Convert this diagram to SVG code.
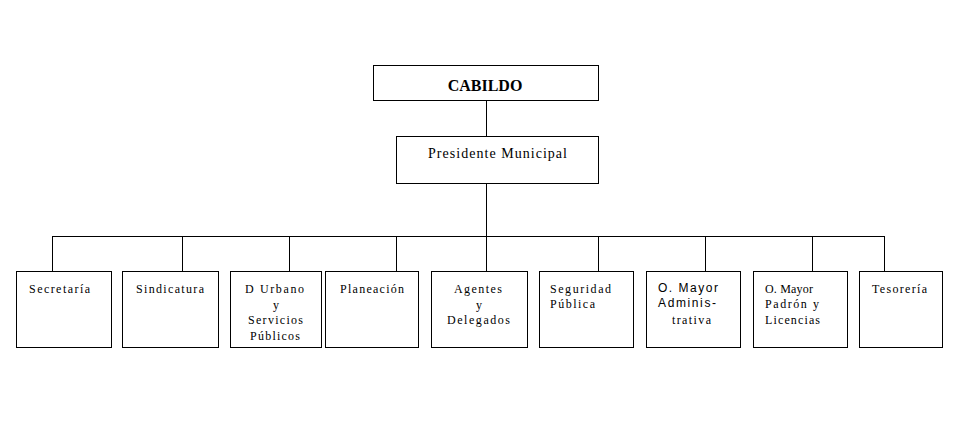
<svg xmlns="http://www.w3.org/2000/svg" width="959" height="439" viewBox="0 0 959 439">
<style>
rect{fill:#fff;stroke:#000;stroke-width:1}
.c line{stroke:#000;stroke-width:1}
text{font-family:"Liberation Serif","Times New Roman",serif;font-size:12px;fill:#000}
.s{font-family:"Liberation Sans",Arial,sans-serif}
.m{text-anchor:middle}
</style>
<rect x="0" y="0" width="959" height="439" style="stroke:none"/>
<g class="c" id="connectors">
<line x1="486.5" y1="100" x2="486.5" y2="136"/>
<line x1="486.5" y1="183" x2="486.5" y2="271"/>
<line x1="52" y1="236.5" x2="885" y2="236.5"/>
<line x1="52.5" y1="236.5" x2="52.5" y2="271"/>
<line x1="182.5" y1="236.5" x2="182.5" y2="271"/>
<line x1="289.5" y1="236.5" x2="289.5" y2="271"/>
<line x1="396.5" y1="236.5" x2="396.5" y2="271"/>
<line x1="598.5" y1="236.5" x2="598.5" y2="271"/>
<line x1="705.5" y1="236.5" x2="705.5" y2="271"/>
<line x1="812.5" y1="236.5" x2="812.5" y2="271"/>
<line x1="884.5" y1="236.5" x2="884.5" y2="271"/>
</g>
<g id="cabildo">
<rect x="373.5" y="65.5" width="225" height="35"/>
<text x="485" y="91" class="m" style="font-size:16px;font-weight:bold">CABILDO</text>
</g>
<g id="presidente">
<rect x="396.5" y="136.5" width="202" height="47"/>
<text x="428" y="158" style="font-size:14px" textLength="139" lengthAdjust="spacing">Presidente Municipal</text>
</g>
<g id="secretaria">
<rect x="16.5" y="271.5" width="95" height="76"/>
<text x="29" y="293" textLength="61" lengthAdjust="spacing">Secretaría</text>
</g>
<g id="sindicatura">
<rect x="122.5" y="271.5" width="96" height="76"/>
<text x="136" y="293" textLength="68" lengthAdjust="spacing">Sindicatura</text>
</g>
<g id="durbano">
<rect x="230.5" y="271.5" width="91" height="76"/>
<text x="245" y="293" textLength="59" lengthAdjust="spacing">D Urbano</text>
<text x="276" y="309" class="m">y</text>
<text x="248" y="324" textLength="55" lengthAdjust="spacing">Servicios</text>
<text x="250" y="340" textLength="50" lengthAdjust="spacing">Públicos</text>
</g>
<g id="planeacion">
<rect x="325.5" y="271.5" width="93" height="76"/>
<text x="340" y="293" textLength="64" lengthAdjust="spacing">Planeación</text>
</g>
<g id="agentes">
<rect x="431.5" y="271.5" width="96" height="76"/>
<text x="454" y="293" textLength="48" lengthAdjust="spacing">Agentes</text>
<text x="479" y="309" class="m">y</text>
<text x="447" y="324" textLength="63" lengthAdjust="spacing">Delegados</text>
</g>
<g id="seguridad">
<rect x="539.5" y="271.5" width="94" height="76"/>
<text x="550" y="293" textLength="61" lengthAdjust="spacing">Seguridad</text>
<text x="550" y="308" textLength="45" lengthAdjust="spacing">Pública</text>
</g>
<g id="omayor-admin">
<rect x="646.5" y="271.5" width="94" height="76"/>
<text x="658" y="292" class="s" textLength="60" lengthAdjust="spacing">O. Mayor</text>
<text x="658" y="307" class="s" textLength="58" lengthAdjust="spacing">Adminis-</text>
<text x="672" y="324" textLength="39" lengthAdjust="spacing">trativa</text>
</g>
<g id="omayor-padron">
<rect x="753.5" y="271.5" width="94" height="76"/>
<text x="765" y="293" textLength="48" lengthAdjust="spacing">O. Mayor</text>
<text x="765" y="308" textLength="54" lengthAdjust="spacing">Padrón y</text>
<text x="765" y="324" textLength="55" lengthAdjust="spacing">Licencias</text>
</g>
<g id="tesoreria">
<rect x="859.5" y="271.5" width="83" height="76"/>
<text x="872" y="293" textLength="55" lengthAdjust="spacing">Tesorería</text>
</g>
</svg>
